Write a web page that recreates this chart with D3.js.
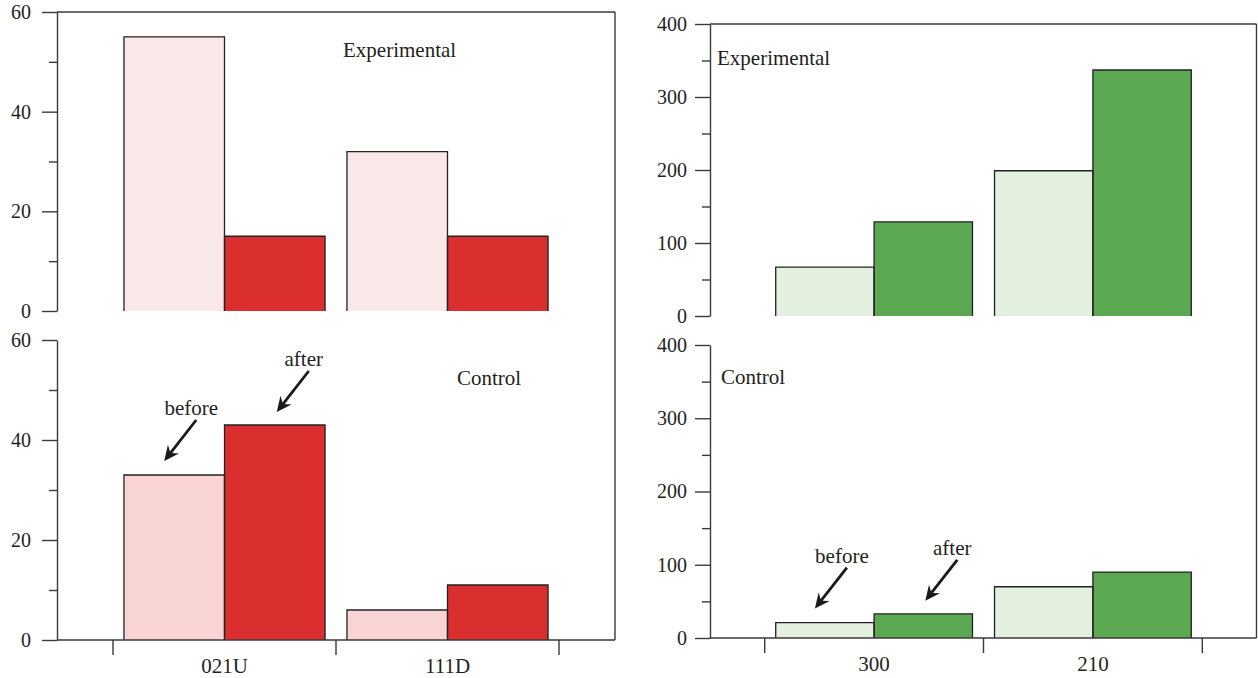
<!DOCTYPE html>
<html>
<head>
<meta charset="utf-8">
<script src="https://cdn.jsdelivr.net/npm/d3@7"></script>
<style>
  html, body { margin: 0; padding: 0; background: #fff; }
  svg { display: block; }
  text { font-family: "Liberation Serif", "DejaVu Serif", serif; fill: #231f20; }
</style>
</head>
<body>
<svg id="chart" width="1258" height="678"></svg>
<script>
// ---------- DATA ----------
const leftCategories = ["021U", "111D"];
const leftExpBefore  = [55, 32];
const leftExpAfter   = [15, 15];
const leftCtrlBefore = [33, 6];
const leftCtrlAfter  = [43, 11];
const leftTicks      = [0, 20, 40, 60];
const leftMinorTicks = [10, 30, 50];

const rightCategories = ["300", "210"];
const rightExpBefore  = [67, 199];
const rightExpAfter   = [129, 337];
const rightCtrlBefore = [21, 70];
const rightCtrlAfter  = [33, 90];
const rightTicks      = [0, 100, 200, 300, 400];
const rightMinorTicks = [50, 150, 250, 350];

const series = ["before", "after"];
const groupLabels = ["Experimental", "Control"];

// ---------- STYLE / LAYOUT ----------
const lineColor = "#3a3a3a";
const barStroke = "#222";
const panels = [
  {
    categories: leftCategories, ticks: leftTicks, minor: leftMinorTicks,
    max: 60, axisX: 57, xRange: [113, 559], rightX: 615,
    top: { range: [311, 12], before: leftExpBefore, after: leftExpAfter, label: [343, 57] },
    bottom: { range: [640, 340], before: leftCtrlBefore, after: leftCtrlAfter, label: [457, 385] },
    colors: { expBefore: "#fae7e7", ctrlBefore: "#f9d4d5", after: "#da2e2f" },
    tickPad: 11, outerPad: 0.109
  },
  {
    categories: rightCategories, ticks: rightTicks, minor: rightMinorTicks,
    max: 400, axisX: 710, xRange: [764.7, 1202.3], rightX: 1256.5,
    top: { range: [316, 24], before: rightExpBefore, after: rightExpAfter, label: [717, 65] },
    bottom: { range: [638, 345], before: rightCtrlBefore, after: rightCtrlAfter, label: [721, 384] },
    colors: { expBefore: "#e3f0df", ctrlBefore: "#e3f0df", after: "#5ba752" },
    tickPad: 8, outerPad: 0.112
  }
];

const svg = d3.select("#chart");

function drawYAxis(g, y, p) {
  const major = d3.axisLeft(y).tickValues(p.ticks).tickSize(15).tickSizeOuter(0).tickPadding(p.tickPad);
  const ax = g.append("g").attr("transform", `translate(${p.axisX},0)`).call(major);
  ax.selectAll("text").style("font-size", "20px").style("font-family", '"Liberation Serif", serif').attr("fill", "#231f20");
  ax.selectAll("line, path").attr("stroke", lineColor).attr("stroke-width", 1.4);
  const minor = d3.axisLeft(y).tickValues(p.minor).tickSize(8).tickSizeOuter(0).tickFormat("");
  const mx = g.append("g").attr("transform", `translate(${p.axisX},0)`).call(minor);
  mx.select(".domain").remove();
  mx.selectAll("line").attr("stroke", lineColor).attr("stroke-width", 1.4);
}

function drawBars(g, x, xs, y, before, after, cats, beforeColor, afterColor) {
  const rows = [];
  cats.forEach((c, i) => {
    rows.push({ cat: c, s: "before", v: before[i], fill: beforeColor });
    rows.push({ cat: c, s: "after", v: after[i], fill: afterColor });
  });
  const y0 = y(0);
  const bg = g.append("g");
  bg.selectAll("rect").data(rows).join("rect")
    .attr("x", d => x(d.cat) + xs(d.s))
    .attr("y", d => y(d.v))
    .attr("width", xs.bandwidth())
    .attr("height", d => y0 - y(d.v))
    .attr("fill", d => d.fill);
  bg.selectAll("path").data(rows).join("path")
    .attr("d", d => {
      const x0 = x(d.cat) + xs(d.s), x1 = x0 + xs.bandwidth(), yt = y(d.v);
      return `M${x0},${y0}V${yt}H${x1}V${y0}`;
    })
    .attr("fill", "none").attr("stroke", barStroke).attr("stroke-width", 1.3);
  return rows;
}

function arrow(g, x1, y1, x2, y2) {
  const dx = x2 - x1, dy = y2 - y1, len = Math.hypot(dx, dy);
  const ux = dx / len, uy = dy / len, nx = -uy, ny = ux;
  const headL = 15, headW = 7, notch = 10;
  g.append("line")
    .attr("x1", x1).attr("y1", y1)
    .attr("x2", x2 - ux * notch).attr("y2", y2 - uy * notch)
    .attr("stroke", "#1a1a1a").attr("stroke-width", 2.8);
  const bx = x2 - ux * headL, by = y2 - uy * headL;
  const cx = x2 - ux * notch, cy = y2 - uy * notch;
  g.append("path")
    .attr("d", `M${x2},${y2}L${bx + nx * headW},${by + ny * headW}L${cx},${cy}L${bx - nx * headW},${by - ny * headW}Z`)
    .attr("fill", "#1a1a1a");
}

panels.forEach(p => {
  const g = svg.append("g");
  const x = d3.scaleBand().domain(p.categories).range(p.xRange).padding(0);
  const xs = d3.scaleBand().domain(series).range([0, x.bandwidth()]).paddingInner(0).paddingOuter(p.outerPad);

  const yTop = d3.scaleLinear().domain([0, p.max]).range(p.top.range);
  const yBot = d3.scaleLinear().domain([0, p.max]).range(p.bottom.range);

  drawBars(g, x, xs, yTop, p.top.before, p.top.after, p.categories, p.colors.expBefore, p.colors.after);
  const botRows = drawBars(g, x, xs, yBot, p.bottom.before, p.bottom.after, p.categories, p.colors.ctrlBefore, p.colors.after);

  drawYAxis(g, yTop, p);
  drawYAxis(g, yBot, p);

  g.append("line").attr("x1", p.axisX).attr("x2", p.rightX)
    .attr("y1", yTop(p.max)).attr("y2", yTop(p.max))
    .attr("stroke", lineColor).attr("stroke-width", 1.4);
  g.append("line").attr("x1", p.rightX).attr("x2", p.rightX)
    .attr("y1", yTop(p.max)).attr("y2", yBot(0))
    .attr("stroke", lineColor).attr("stroke-width", 1.4);
  g.append("line").attr("x1", p.axisX).attr("x2", p.rightX)
    .attr("y1", yBot(0)).attr("y2", yBot(0))
    .attr("stroke", lineColor).attr("stroke-width", 1.4);

  const bounds = [x(p.categories[0])].concat(p.categories.map(c => x(c) + x.bandwidth()));
  g.selectAll(".xt").data(bounds).join("line")
    .attr("x1", d => d).attr("x2", d => d)
    .attr("y1", yBot(0)).attr("y2", yBot(0) + 15)
    .attr("stroke", lineColor).attr("stroke-width", 1.4);
  g.selectAll(".xl").data(p.categories).join("text")
    .attr("x", d => x(d) + x.bandwidth() / 2)
    .attr("y", yBot(0) + 33)
    .attr("text-anchor", "middle")
    .style("font-size", "21px")
    .text(d => d);

  g.append("text").attr("x", p.top.label[0]).attr("y", p.top.label[1]).style("font-size", "21px").text(groupLabels[0]);
  g.append("text").attr("x", p.bottom.label[0]).attr("y", p.bottom.label[1]).style("font-size", "21px").text(groupLabels[1]);

  const cat0 = p.categories[0];
  const offs = { before: [-10, -14], after: [2, -13] };
  series.forEach(s => {
    const r = botRows.find(d => d.cat === cat0 && d.s === s);
    const ex = x(cat0) + xs(s) + xs.bandwidth() / 2 + offs[s][0];
    const ey = yBot(r.v) + offs[s][1];
    const sx = ex + 32, sy = ey - 41;
    arrow(g, sx, sy, ex, ey);
    g.append("text").attr("x", sx - 5).attr("y", sy - 5)
      .attr("text-anchor", "middle").style("font-size", "21px").text(s);
  });
});
</script>
</body>
</html>
